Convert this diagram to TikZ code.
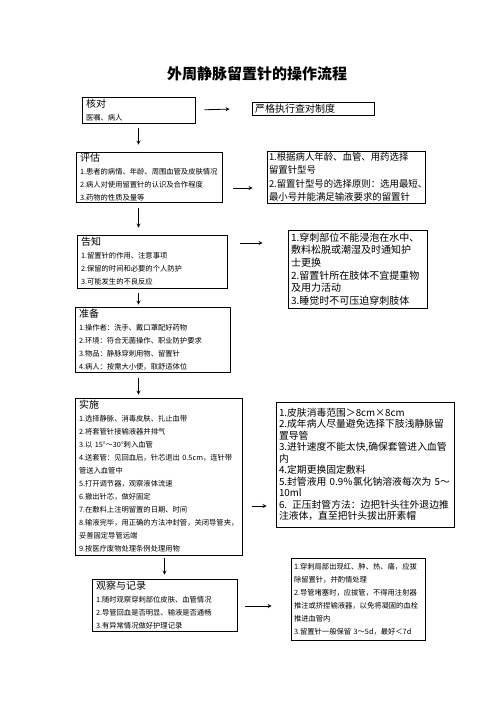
\documentclass[tikz,border=0pt]{standalone}
\usepackage{fontspec}
\setmainfont{Noto Sans CJK SC}
\usetikzlibrary{arrows}
\tikzstyle{caixaPas} = [rectangle, draw=black, line width=0.8pt, align=left, inner xsep=4pt, inner ysep=1pt, font=\fontsize{7.3}{13}\selectfont]
\tikzstyle{caixaNota} = [rectangle, draw=black, line width=0.8pt, align=left, inner xsep=3pt, inner ysep=0.5pt]
\tikzstyle{aspecteTitol} = [font=\fontsize{15}{18}\selectfont\bfseries]
\tikzstyle{fletxa} = [line width=0.8pt,->,>=stealth]
\newcommand{\capcalera}[1]{{\fontsize{10}{13}\selectfont #1}}

\begin{document}
\begin{tikzpicture}[x=1pt, y=1pt, node distance=60pt]
	\useasboundingbox (0,0) rectangle (496,-702);

	% Definició de nodes
	\node (titol) [aspecteTitol] at (257,-74) {外周静脉留置针的操作流程};

	\node (comprovar) [caixaPas, text width=105pt, minimum height=26pt] at (138.5,-110) {\capcalera{核对}\\医嘱、病人};
	\node (notaComprovar) [caixaNota, right of=comprovar, xshift=114.5pt, yshift=1.5pt, text width=116pt, minimum height=13pt, font=\fontsize{10}{12}\selectfont] {严格执行查对制度};

	\node (avaluar) [caixaPas, below of=comprovar, xshift=10.5pt, yshift=-7pt, text width=138pt, minimum height=50pt] {\capcalera{评估}\\1.患者的病情、年龄、周围血管及皮肤情况\\2.病人对使用留置针的认识及合作程度\\3.药物的性质及量等};
	\node (notaAvaluar) [caixaNota, right of=avaluar, xshift=137pt, inner xsep=2pt, text width=154pt, minimum height=52pt, font=\fontsize{9.4}{13.5}\selectfont] {1.根据病人年龄、血管、用药选择\\留置针型号\\2.留置针型号的选择原则：选用最短、\\最小号并能满足输液要求的留置针};

	\node (informar) [caixaPas, below of=avaluar, xshift=3pt, yshift=-24.5pt, text width=142pt, minimum height=53pt] {\capcalera{告知}\\1.留置针的作用、注意事项\\2.保留的时间和必要的个人防护\\3.可能发生的不良反应};
	\node (notaInformar) [caixaNota, right of=informar, xshift=145.5pt, yshift=-7.5pt, text width=133pt, minimum height=78pt, font=\fontsize{10}{12.7}\selectfont] {1.穿刺部位不能浸泡在水中、\\敷料松脱或潮湿及时通知护\\士更换\\2.留置针所在肢体不宜提重物\\及用力活动\\3.睡觉时不可压迫穿刺肢体};

	\node (preparar) [caixaPas, below of=informar, xshift=0.5pt, yshift=-18pt, text width=147pt, minimum height=65pt] {\capcalera{准备}\\1.操作者：洗手、戴口罩配好药物\\2.环境：符合无菌操作、职业防护要求\\3.物品：静脉穿刺用物、留置针\\4.病人：按需大小便，取舒适体位};

	\node (aplicar) [caixaPas, below of=preparar, xshift=6pt, yshift=-77pt, text width=159pt, minimum height=157pt] {\capcalera{实施}\\1.选择静脉、消毒皮肤、扎止血带\\2.将套管针接输液器并排气\\3.以 15°～30°刺入血管\\4.送套管：见回血后，针芯退出 0.5cm，连针带\\管送入血管中\\5.打开调节器，观察液体流速\\6.撤出针芯，做好固定\\7.在敷料上注明留置的日期、时间\\8.输液完毕，用正确的方法冲封管，关闭导管夹，\\妥善固定导管远端\\9.按医疗废物处理条例处理用物};
	\node (notaAplicar) [caixaNota, right of=aplicar, xshift=146.5pt, yshift=12pt, text width=172pt, minimum height=125pt, font=\fontsize{9.8}{11.5}\selectfont] {1.皮肤消毒范围＞8cm×8cm\\2.成年病人尽量避免选择下肢浅静脉留\\置导管\\3.进针速度不能太快,确保套管进入血管\\内\\4.定期更换固定敷料\\5.封管液用 0.9％氯化钠溶液每次为 5～\\10ml\\6. 正压封管方法：边把针头往外退边推\\注液体，直至把针头拔出肝素帽};

	\node (observar) [caixaPas, below of=aplicar, xshift=6pt, yshift=-68.5pt, text width=137pt, minimum height=52pt] {\capcalera{观察与记录}\\1.随时观察穿刺部位皮肤、血管情况\\2.导管回血是否明显、输液是否通畅\\3.有异常情况做好护理记录};
	\node (notaObservar) [caixaNota, right of=observar, xshift=133.5pt, yshift=6pt, text width=128pt, minimum height=82pt, font=\fontsize{7.3}{13}\selectfont] {1.穿刺局部出现红、肿、热、痛，应拔\\除留置针，并酌情处理\\2.导管堵塞时，应拔管，不得用注射器\\推注或挤捏输液器，以免将凝固的血栓\\推进血管内\\3.留置针一般保留 3～5d，最好＜7d};

	% Fletxes entre els nodes
	\draw [fletxa, shorten <=9pt, shorten >=22pt] (comprovar.east) -- (notaComprovar.west);
	\draw [fletxa, shorten <=11pt, shorten >=14pt] ([yshift=-11pt]avaluar.east) -- ([yshift=-11pt]notaAvaluar.west);
	\draw [fletxa, shorten <=13pt, shorten >=25pt] ([yshift=18.5pt]informar.east) -- ([yshift=26pt]notaInformar.west);
	\draw [fletxa, shorten <=10pt, shorten >=9pt] ([yshift=-29.5pt]aplicar.east) -- ([yshift=-41.5pt]notaAplicar.west);
	\draw [fletxa, shorten <=8pt, shorten >=19pt] ([yshift=-1pt]observar.east) -- ([yshift=-7pt]notaObservar.west);

	\draw [fletxa, shorten <=5pt, shorten >=7pt] (comprovar.south) -- (comprovar.south |- avaluar.north);
	\draw [fletxa, shorten <=6pt, shorten >=7pt] (avaluar.south -| comprovar) -- (informar.north -| comprovar);
	\draw [fletxa, shorten <=5pt, shorten >=2pt] (informar.south -| comprovar) -- (preparar.north -| comprovar);
	\draw [fletxa, shorten <=6pt, shorten >=3pt] (preparar.south -| comprovar) -- (aplicar.north -| comprovar);
	\draw [fletxa, shorten <=3pt, shorten >=4pt] (aplicar.south -| observar) -- (observar.north);

\end{tikzpicture}
\end{document}
